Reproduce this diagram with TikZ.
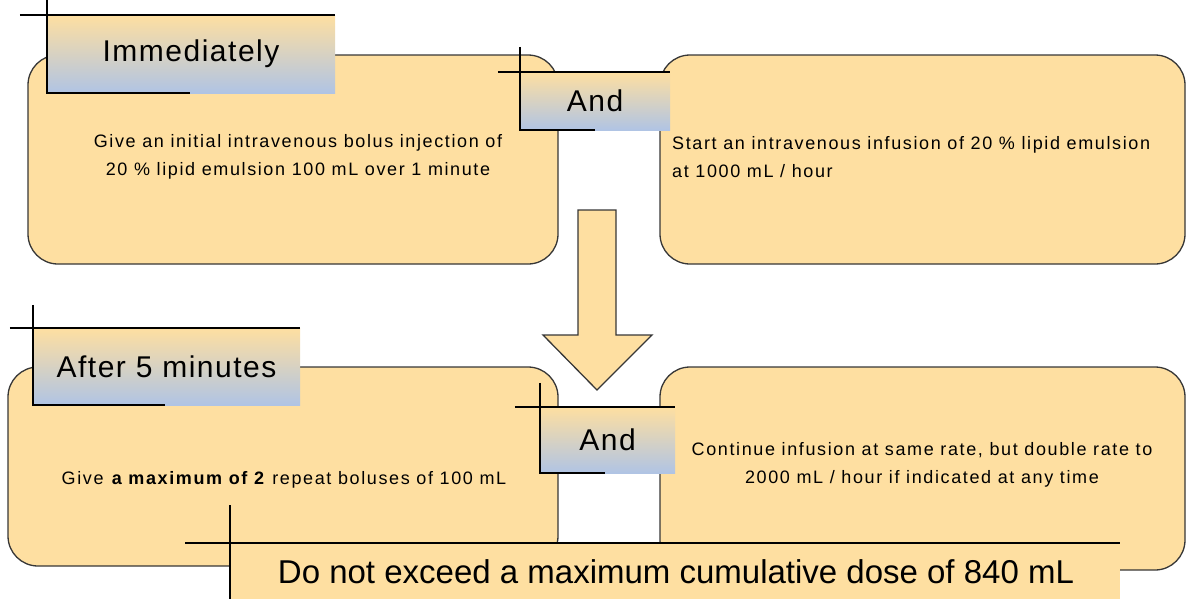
\documentclass[tikz,border=0pt]{standalone}
\usepackage{fontspec}
\setmainfont{Liberation Sans}
\newfontfamily\bodyfont[LetterSpace=9]{Liberation Sans}
\newfontfamily\headfont[LetterSpace=5]{Liberation Sans}
\usetikzlibrary{calc}
\definecolor{boxfill}{RGB}{254,223,161}
\definecolor{lblblue}{RGB}{176,196,228}
\definecolor{edgegray}{RGB}{55,55,55}
\begin{document}
\begin{tikzpicture}[x=1pt,y=-1pt,
 panel/.style={draw=edgegray, line width=1.3pt, fill=boxfill, rounded corners=30pt, inner sep=0pt},
 lbl/.style={top color=boxfill, bottom color=lblblue, inner sep=0pt, font=\headfont\fontsize{30}{36}\selectfont},
 lblline/.style={line width=2pt, black},
 body/.style={font=\bodyfont\fontsize{18}{28}\selectfont, inner sep=0pt},
 bigarrow/.style={draw=edgegray, line width=1.3pt, fill=boxfill, line join=miter},
]
\useasboundingbox (0,0) rectangle (1195,598);
% panels
\node[panel, minimum width=530pt, minimum height=209pt] (A) at (293,159.5) {};
\node[panel, minimum width=525pt, minimum height=209pt] (B) at (922.5,159.5) {};
\node[panel, minimum width=550pt, minimum height=199pt] (C) at (283,466.5) {};
\node[panel, minimum width=525pt, minimum height=203pt] (D) at (922.5,468.5) {};
% panel texts
\node[body, align=center] (tA) at (298,157) {Give an initial intravenous bolus injection of\\20 \% lipid emulsion 100 mL over 1 minute};
\node[body, align=left, anchor=west] (tB) at (672,157) {Start an intravenous infusion of 20 \% lipid emulsion\\at 1000 mL / hour};
\node[body] (tC) at (284,480) {Give \textbf{a maximum of 2} repeat boluses of 100 mL};
\node[body, align=center] (tD) at (922,465) {Continue infusion at same rate, but double rate to\\2000 mL / hour if indicated at any time};
% arrow
\draw[bigarrow] (578,210) -- (616,210) -- (616,335) -- (652,335) -- (597,390) -- (543,335) -- (578,335) -- cycle;
% labels
\node[lbl, minimum width=288pt, minimum height=78pt] (imm) at (191,54) {Immediately};
\draw[lblline] ([xshift=-27pt]imm.north west) -- (imm.north east);
\draw[lblline] ([yshift=15pt]imm.north west) -- (imm.south west) -- ++(143,0);
\node[lbl, minimum width=150pt, minimum height=58pt] (and1) at (595,101) {And};
\draw[lblline] ([xshift=-22pt]and1.north west) -- (and1.north east);
\draw[lblline] ([yshift=25pt]and1.north west) -- (and1.south west) -- ++(75,0);
\node[lbl, minimum width=267pt, minimum height=77pt] (after) at (166.5,366.5) {After 5 minutes};
\draw[lblline] ([xshift=-23pt]after.north west) -- (after.north east);
\draw[lblline] ([yshift=23pt]after.north west) -- (after.south west) -- ++(132,0);
\node[lbl, minimum width=135pt, minimum height=66pt] (and2) at (607.5,440) {And};
\draw[lblline] ([xshift=-25pt]and2.north west) -- (and2.north east);
\draw[lblline] ([yshift=24pt]and2.north west) -- (and2.south west) -- ++(65,0);
% final box
\node[fill=boxfill, inner sep=0pt, minimum width=890pt, minimum height=80pt, anchor=north west] (fin) at (230,543) {};
\draw[lblline] ([xshift=-45pt]fin.north west) -- (fin.north east);
\draw[lblline] ([yshift=38pt]fin.north west) -- (fin.south west);
\node[font=\fontsize{33}{40}\selectfont, inner sep=0pt] (tfin) at (676,572) {Do not exceed a maximum cumulative dose of 840 mL};
\end{tikzpicture}
\end{document}
